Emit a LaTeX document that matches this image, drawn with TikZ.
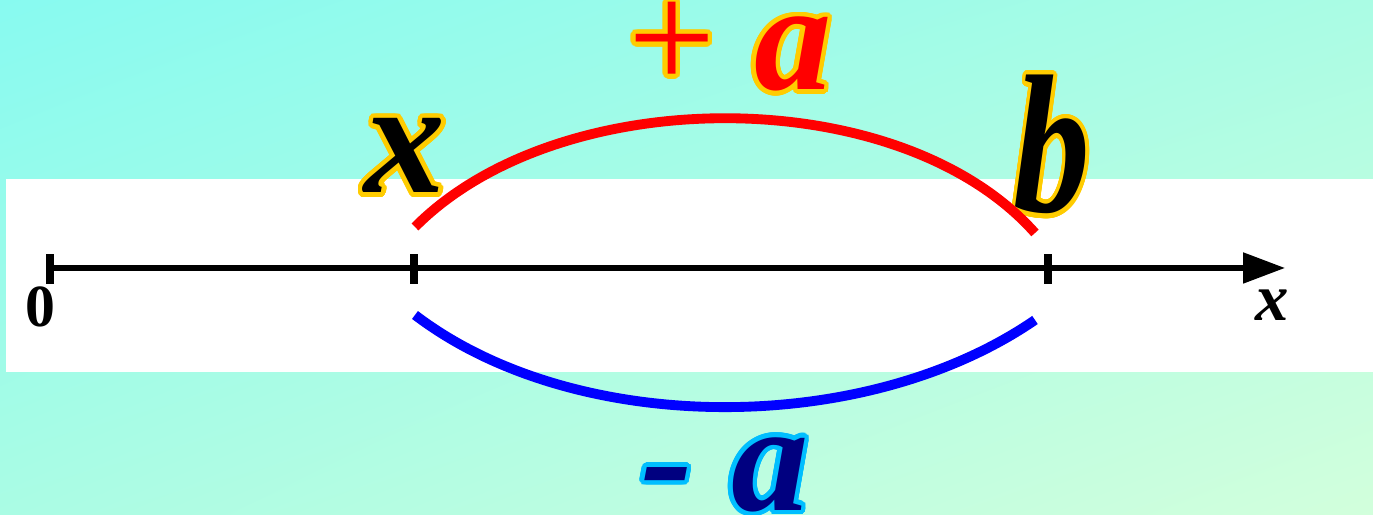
\documentclass[tikz,border=0pt]{standalone}
\usepackage{fontspec}
\setmainfont{Liberation Serif}
\usepackage{contour}
\contourlength{1.3pt}
\contournumber{32}
\usetikzlibrary{arrows.meta, shadings}
\definecolor{bgcyan}{RGB}{136,250,240}
\definecolor{bgmid}{RGB}{170,252,228}
\definecolor{bggreen}{RGB}{210,255,220}
\definecolor{outlineyellow}{RGB}{255,204,0}
\definecolor{outlinesky}{RGB}{0,190,255}
\definecolor{darknavy}{RGB}{0,0,128}
\newcommand{\biglabel}[3]{\contour{#1}{\color{#2}\bfseries\itshape #3}}

\begin{document}
\begin{tikzpicture}[
    axisline/.style={line width=1.5pt},
    tickmark/.style={line width=2pt},
    arch/.style={line width=2.8pt}
  ]
    \useasboundingbox (0,0) rectangle (13.73,5.15);
    \shade[upper left=bgcyan, upper right=bgmid, lower left=bgmid, lower right=bggreen] (0,0) rectangle (13.73,5.15);
    \fill[white] (0.06,1.43) rectangle (13.73,3.36);

    % number line
    \coordinate (o) at (0.5,2.47);
    \coordinate (px) at (4.14,2.47);
    \coordinate (pb) at (10.48,2.47);
    \coordinate (tip) at (12.85,2.47);
    \draw[axisline, -{Triangle[length=0.42cm, width=0.3cm]}] (o) -- (tip);
    \foreach \p in {o, px, pb}
        \draw[tickmark] ([yshift=-0.16cm]\p) -- ([yshift=0.14cm]\p);
    \node[font=\fontsize{17}{17}\selectfont\bfseries] (zero) at (0.4,2.08) {0};
    \node[font=\fontsize{19}{19}\selectfont\bfseries\itshape] (xaxis) at (12.72,2.1) {x};

    % end points
    \node[font=\fontsize{46}{46}\selectfont] (xlab) at (4.05,3.57) {\biglabel{outlineyellow}{black}{x}};
    \node[font=\fontsize{56}{56}\selectfont, xscale=0.78] (blab) at (10.52,3.68) {\biglabel{outlineyellow}{black}{b}};

    % arcs
    \coordinate (redL) at (4.15,2.88);
    \coordinate (redR) at (10.35,2.82);
    \coordinate (blueL) at (4.15,2.0);
    \coordinate (blueR) at (10.35,1.95);
    \draw[arch, red] (redL) .. controls (5.6,4.34) and (9.0,4.34) .. (redR);
    \draw[arch, blue] (blueL) .. controls (5.75,0.78) and (8.65,0.78) .. (blueR);

    \node[font=\fontsize{44}{44}\selectfont] (plusa) at (7.3,4.66) {\biglabel{outlineyellow}{red}{\mdseries\upshape +\ \bfseries\itshape a}};
    \node[font=\fontsize{44}{44}\selectfont] (minusa) at (7.25,0.38) {\biglabel{outlinesky}{darknavy}{- a}};
\end{tikzpicture}
\end{document}
